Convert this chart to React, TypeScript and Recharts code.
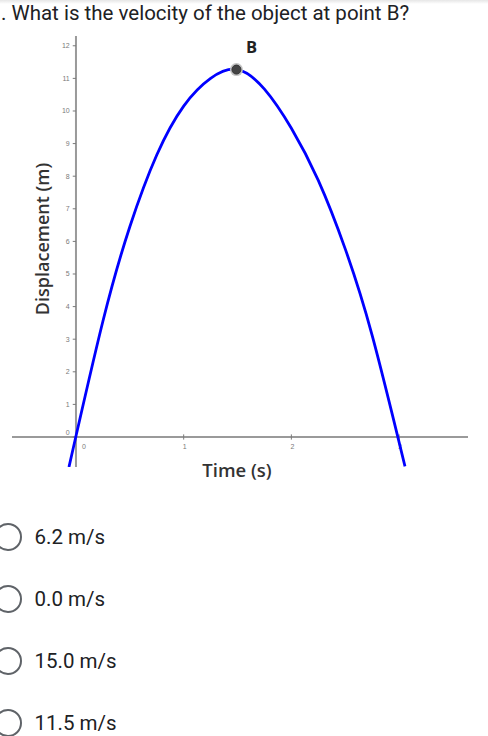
import React from 'react';
import { LineChart, Line, XAxis, YAxis, ReferenceLine, ReferenceDot } from 'recharts';

// readings: time (s) and displacement (m)
const times = [-0.065, 0.25, 0.5, 0.75, 1.0, 1.25, 1.5, 1.75, 2.0, 2.25, 2.5, 2.75, 3.055];
const displacement = [-0.92, 3.55, 6.45, 8.65, 10.15, 11.0, 11.27, 10.67, 9.47, 7.87, 5.77, 3.12, -0.9];

const xTicks = [0, 1, 2, 3];
const yTicks = [0, 1, 2, 3, 4, 5, 6, 7, 8, 9, 10, 11, 12];

const pointB = { t: 1.49, y: 11.27, label: 'B' };

const question = '. What is the velocity of the object at point B?';
const answers = ['6.2 m/s', '0.0 m/s', '15.0 m/s', '11.5 m/s'];

const data = times.map((t, i) => ({ t, y: displacement[i] }));

const AXIS = '#9a9a9a';
const TICK = '#7a7a7a';

const yTickLabel = (v: number) => (props: any) => {
  const { viewBox } = props;
  return (
    <text x={viewBox.x - 3} y={viewBox.y + (v === 0 ? -2 : 2.5)} textAnchor="end" fontSize={7} fill={TICK} fontFamily="Arial, sans-serif">
      {v}
    </text>
  );
};

const xTickLabel = (v: number) => (props: any) => {
  const { viewBox } = props;
  const cx = viewBox.x + (v === 0 ? 8 : 1);
  return (
    <text x={cx} y={viewBox.y + viewBox.height + 9} textAnchor="middle" fontSize={7} fill={TICK} fontFamily="Arial, sans-serif">
      {v}
    </text>
  );
};

const bLabel = (props: any) => {
  const { viewBox } = props;
  return (
    <text x={viewBox.x + viewBox.width / 2 + 15} y={viewBox.y - 12} textAnchor="middle" fontSize={16.5} fontWeight={700} fill="#222" fontFamily="'Open Sans', sans-serif">
      {pointB.label}
    </text>
  );
};

const titleStyle: React.CSSProperties = {
  position: 'absolute',
  fontFamily: "'Open Sans', sans-serif",
  fontSize: 18,
  fontWeight: 600,
  color: '#333',
  whiteSpace: 'nowrap',
};

export default function App() {
  return (
    <div style={{ position: 'absolute', left: 0, top: 0, width: 488, height: 736, overflow: 'hidden', background: '#fff' }}>
      <div style={{ position: 'absolute', left: 0, top: 0, width: 488, height: 4, background: 'linear-gradient(#e6e6e6, #fff)' }} />
      <div style={{ position: 'absolute', left: 1, top: 0, fontFamily: 'Roboto, sans-serif', fontSize: 20.5, color: '#202124', lineHeight: '26px', whiteSpace: 'nowrap' }}>
        {question}
      </div>

      <div style={{ position: 'absolute', left: 0, top: 0 }}>
        <LineChart width={488} height={480} data={data} margin={{ top: 36, right: 20, bottom: 13, left: 12 }}>
          <XAxis type="number" dataKey="t" domain={[-0.594, 3.64]} hide allowDataOverflow />
          <YAxis type="number" domain={[-0.92, 12.3]} hide allowDataOverflow />
          <ReferenceLine y={0} stroke={AXIS} strokeWidth={2} />
          <ReferenceLine x={0} stroke={AXIS} strokeWidth={2} />
          {yTicks.map(v => (
            <ReferenceLine key={'y' + v} segment={[{ x: -0.03, y: v }, { x: 0, y: v }]} stroke={TICK} strokeWidth={1} label={yTickLabel(v)} />
          ))}
          {xTicks.filter(v => v > 0).map(v => (
            <ReferenceLine key={'x' + v} segment={[{ x: v, y: -0.08 }, { x: v, y: 0.08 }]} stroke={TICK} strokeWidth={1} />
          ))}
          {xTicks.map(v => (
            <ReferenceLine key={'xl' + v} segment={[{ x: v, y: -0.08 }, { x: v, y: 0.08 }]} stroke="none" label={xTickLabel(v)} />
          ))}
          <Line type="natural" dataKey="y" stroke="#0000ff" strokeWidth={2.8} dot={false} isAnimationActive={false} />
          <ReferenceDot x={pointB.t} y={pointB.y} r={6.5} fill="#c4c4c4" stroke="none" />
          <ReferenceDot x={pointB.t} y={pointB.y} r={4.5} fill="#444" stroke="#333" strokeWidth={1} label={bLabel} />
        </LineChart>
      </div>

      <div style={{ ...titleStyle, left: 41.5, top: 239, transform: 'translate(-50%, -50%) rotate(-90deg)' }}>
        Displacement (m)
      </div>
      <div style={{ ...titleStyle, left: 237, top: 469, fontSize: 18.5, transform: 'translate(-50%, -50%)' }}>
        Time (s)
      </div>

      {answers.map((a, i) => (
        <div key={a} style={{ position: 'absolute', left: 0, top: 537 + i * 62, height: 0 }}>
          <div style={{ position: 'absolute', left: -6, top: -14, width: 24, height: 24, border: '2px solid #5f6368', borderRadius: '50%' }} />
          <div style={{ position: 'absolute', left: 34.5, top: -13, fontFamily: 'Roboto, sans-serif', fontSize: 20.5, lineHeight: '26px', color: '#202124', whiteSpace: 'nowrap' }}>
            {a}
          </div>
        </div>
      ))}
    </div>
  );
}
